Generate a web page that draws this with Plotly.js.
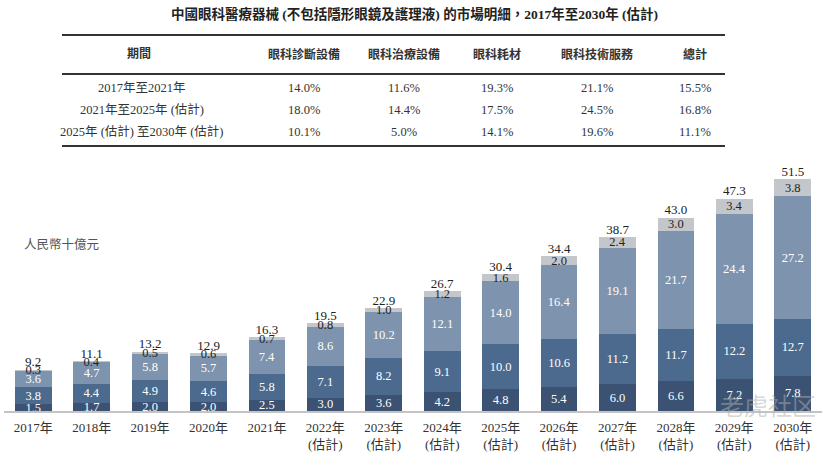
<!DOCTYPE html>
<html>
<head>
<meta charset="utf-8">
<script src="https://cdn.plot.ly/plotly-3.0.1.min.js"></script>
<style>html,body{margin:0;padding:0;background:#fff;}#chart{width:830px;height:456px;}</style>
</head>
<body>
<div id="chart"></div>
<script>
// ---------- data ----------
var years = ['2017','2018','2019','2020','2021','2022','2023','2024','2025','2026','2027','2028','2029','2030'];
var tickLabels = ['2017年','2018年','2019年','2020年','2021年',
  '2022年<br>(估計)','2023年<br>(估計)','2024年<br>(估計)','2025年<br>(估計)','2026年<br>(估計)',
  '2027年<br>(估計)','2028年<br>(估計)','2029年<br>(估計)','2030年<br>(估計)'];
var diagnostic = [1.5,1.7,2.0,2.0,2.5,3.0,3.6,4.2,4.8,5.4,6.0,6.6,7.2,7.8];
var treatment  = [3.8,4.4,4.9,4.6,5.8,7.1,8.2,9.1,10.0,10.6,11.2,11.7,12.2,12.7];
var consumables= [3.6,4.7,5.8,5.7,7.4,8.6,10.2,12.1,14.0,16.4,19.1,21.7,24.4,27.2];
var techService= [0.3,0.4,0.5,0.6,0.7,0.8,1.0,1.2,1.6,2.0,2.4,3.0,3.4,3.8];
var totals     = [9.2,11.1,13.2,12.9,16.3,19.5,22.9,26.7,30.4,34.4,38.7,43.0,47.3,51.5];
var seriesNames = ['眼科診斷設備','眼科治療設備','眼科耗材','眼科技術服務'];

var tableTitle = '中國眼科醫療器械 (不包括隱形眼鏡及護理液) 的市場明細，2017年至2030年 (估計)';
var tableHeaders = ['期間','眼科診斷設備','眼科治療設備','眼科耗材','眼科技術服務','總計'];
var periods = ['2017年至2021年','2021年至2025年 (估計)','2025年 (估計) 至2030年 (估計)'];
var cagrDiagnostic = ['14.0%','18.0%','10.1%'];
var cagrTreatment  = ['11.6%','14.4%','5.0%'];
var cagrConsumables= ['19.3%','17.5%','14.1%'];
var cagrTech       = ['21.1%','24.5%','19.6%'];
var cagrTotal      = ['15.5%','16.8%','11.1%'];
var unitLabel = '人民幣十億元';
var watermark = '老虎社区';

// ---------- layout helpers ----------
var W = 830, H = 456;
var M = {l: 4, r: 8, t: 141, b: 45};
var pw = W - M.l - M.r, ph = H - M.t - M.b;
function px(x){ return (x - M.l) / pw; }
function py(y){ return (H - M.b - y) / ph; }
var SERIF = 'Liberation Serif, Noto Sans CJK TC, serif';

var colors = ['#3b5272','#4b6a8d','#7e93ad','#c3c6ca'];
var data = [diagnostic, treatment, consumables, techService].map(function(vals, i){
  return {
    type: 'bar', x: years, y: vals, name: seriesNames[i],
    marker: {color: colors[i], line: {width: 0}},
    text: vals.map(function(v){ return v.toFixed(1); }),
    textposition: 'inside', insidetextanchor: 'middle', textangle: 0,
    constraintext: 'none',
    textfont: {family: SERIF, size: 12.5, color: i === 3 ? '#222' : '#ffffff'},
    hoverinfo: 'skip', cliponaxis: false
  };
});
data.push({
  type: 'scatter', mode: 'text', x: years, y: totals,
  text: totals.map(function(v){ return v.toFixed(1); }),
  textposition: 'top center',
  textfont: {family: SERIF, size: 13, color: '#222'},
  hoverinfo: 'skip', showlegend: false, cliponaxis: false
});

var ann = [];
var shapes = [];
// title
ann.push({text: '<b>' + tableTitle + '</b>', x: px(415), y: py(14), xref: 'paper', yref: 'paper',
  showarrow: false, xanchor: 'center', yanchor: 'middle', font: {family: SERIF, size: 13.5, color: '#222'}});
// table lines
[35, 74, 146].forEach(function(y){
  shapes.push({type: 'line', xref: 'paper', yref: 'paper', x0: px(62), x1: px(725), y0: py(y), y1: py(y),
    line: {color: '#333', width: 2}});
});
var colX = [139, 304, 404, 497, 597, 695];
tableHeaders.forEach(function(h, i){
  ann.push({text: '<b>' + h + '</b>', x: px(colX[i]), y: py(54), xref: 'paper', yref: 'paper',
    showarrow: false, xanchor: 'center', yanchor: 'middle', font: {family: SERIF, size: 12, color: '#333'}});
});
var rowY = [88, 110, 132];
var cols = [periods, cagrDiagnostic, cagrTreatment, cagrConsumables, cagrTech, cagrTotal];
rowY.forEach(function(y, r){
  cols.forEach(function(col, c){
    ann.push({text: col[r], x: px(c === 0 ? 142 : colX[c]), y: py(y), xref: 'paper', yref: 'paper',
      showarrow: false, xanchor: 'center', yanchor: 'middle', font: {family: SERIF, size: 12.5, color: '#333'}});
  });
});
// unit label
ann.push({text: unitLabel, x: px(22), y: py(245), xref: 'paper', yref: 'paper', showarrow: false,
  xanchor: 'left', yanchor: 'middle', font: {family: SERIF, size: 12.5, color: '#555'}});
// watermark
ann.push({text: watermark, x: px(768), y: py(404), xref: 'paper', yref: 'paper', showarrow: false,
  xanchor: 'center', yanchor: 'middle', font: {family: 'Noto Sans CJK SC', size: 24, color: 'rgba(175,175,175,0.5)'}});

var layout = {
  width: W, height: H,
  margin: M,
  paper_bgcolor: '#ffffff', plot_bgcolor: '#ffffff',
  barmode: 'stack', bargap: 0.37,
  showlegend: false,
  uniformtext: {mode: 'show', minsize: 12.5},
  xaxis: {
    type: 'category', tickmode: 'array', tickvals: years, ticktext: tickLabels,
    range: [-0.5, 13.5], showline: true, linecolor: '#c4c4c4', linewidth: 1.5,
    ticks: 'outside', ticklen: 4, tickcolor: 'rgba(0,0,0,0)',
    showgrid: false, zeroline: false,
    tickfont: {family: SERIF, size: 13, color: '#333'}, fixedrange: true
  },
  yaxis: {range: [0, 60], visible: false, showgrid: false, zeroline: false, fixedrange: true},
  annotations: ann,
  shapes: shapes
};
Plotly.newPlot('chart', data, layout, {displayModeBar: false, staticPlot: true});
</script>
</body>
</html>
